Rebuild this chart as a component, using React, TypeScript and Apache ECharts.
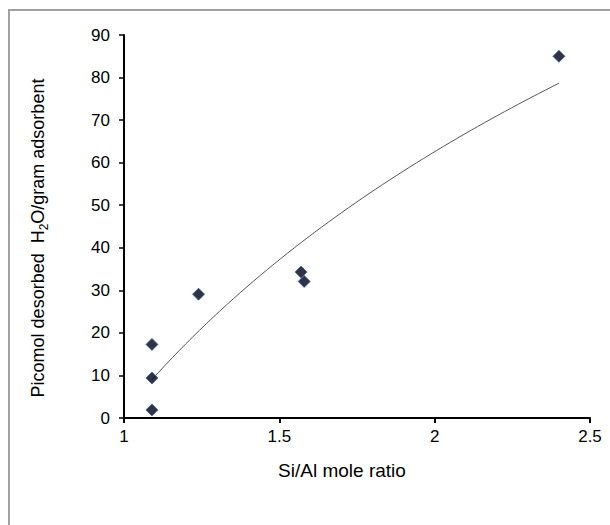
import React, { useEffect, useRef } from "react";
import * as echarts from "echarts";

// Si/Al mole ratio of each adsorbent and the water it desorbed (picomol / gram)
const siAlRatio = [1.09, 1.09, 1.09, 1.24, 1.57, 1.58, 2.4];
const waterDesorbed = [17.3, 9.4, 1.9, 29.1, 34.3, 32.1, 85];

const xTicks = [1, 1.5, 2, 2.5];
const yTicks = [0, 10, 20, 30, 40, 50, 60, 70, 80, 90];

// Logarithmic least-squares trendline y = a*ln(x) + b over the measured points
function logTrend(xs: number[], ys: number[]) {
  const lx = xs.map((v) => Math.log(v));
  const n = xs.length;
  const mx = lx.reduce((s, v) => s + v, 0) / n;
  const my = ys.reduce((s, v) => s + v, 0) / n;
  let sxx = 0;
  let sxy = 0;
  for (let i = 0; i < n; i++) {
    sxx += (lx[i] - mx) * (lx[i] - mx);
    sxy += (lx[i] - mx) * (ys[i] - my);
  }
  const a = sxy / sxx;
  const b = my - a * mx;
  const lo = Math.min(...xs);
  const hi = Math.max(...xs);
  const pts: number[][] = [];
  const steps = 60;
  for (let i = 0; i <= steps; i++) {
    const x = lo + ((hi - lo) * i) / steps;
    pts.push([x, a * Math.log(x) + b]);
  }
  return pts;
}

const FONT = "'Liberation Sans', Arial, sans-serif";

export default function App() {
  const ref = useRef<HTMLDivElement>(null);

  useEffect(() => {
    document.body.style.margin = "0";
    if (!ref.current) return;
    const chart = echarts.init(ref.current, undefined, { renderer: "svg" });
    chart.setOption({
      animation: false,
      backgroundColor: "#ffffff",
      grid: { left: 124, right: 20, top: 35, bottom: 107, containLabel: false },
      graphic: [
        {
          type: "rect",
          shape: { x: 9, y: 10, width: 800, height: 700 },
          style: { fill: "none", stroke: "#a0a0a0", lineWidth: 2 },
          silent: true,
        },
        {
          type: "text",
          x: 40,
          y: 238,
          rotation: Math.PI / 2,
          style: {
            text: "{a|Picomol desorbed  H}{s|2}{a|O/gram adsorbent}",
            align: "center",
            verticalAlign: "middle",
            rich: {
              a: { fontSize: 18, fontFamily: FONT, fill: "#000", lineHeight: 22, verticalAlign: "top" },
              s: { fontSize: 12, fontFamily: FONT, fill: "#000", lineHeight: 22, verticalAlign: "top", padding: [9, 0, 0, 0] },
            },
          },
        },
        {
          type: "text",
          x: 342,
          y: 470,
          style: {
            text: "Si/Al mole ratio",
            fontSize: 19,
            fontFamily: FONT,
            fill: "#000",
            align: "center",
            verticalAlign: "middle",
          },
        },
      ],
      xAxis: {
        type: "value",
        min: xTicks[0],
        max: xTicks[xTicks.length - 1],
        interval: 0.5,
        axisLine: { onZero: false, lineStyle: { color: "#000", width: 2 } },
        axisTick: { show: true, length: 5, lineStyle: { color: "#000", width: 2 } },
        axisLabel: { fontSize: 17, fontFamily: FONT, color: "#000", margin: 10 },
        splitLine: { show: false },
      },
      yAxis: {
        type: "value",
        min: yTicks[0],
        max: yTicks[yTicks.length - 1],
        interval: 10,
        axisLine: { onZero: false, lineStyle: { color: "#000", width: 2 } },
        axisTick: { show: true, length: 5, lineStyle: { color: "#000", width: 1.5 } },
        axisLabel: { fontSize: 17, fontFamily: FONT, color: "#000", margin: 14 },
        splitLine: { show: false },
      },
      series: [
        {
          type: "line",
          data: logTrend(siAlRatio, waterDesorbed),
          showSymbol: false,
          smooth: false,
          lineStyle: { color: "#555", width: 1 },
          silent: true,
          z: 1,
        },
        {
          type: "scatter",
          data: siAlRatio.map((x, i) => [x, waterDesorbed[i]]),
          symbol: "diamond",
          symbolSize: 12,
          itemStyle: { color: "#000010", borderColor: "#2a5cc0", borderWidth: 1 },
          z: 2,
        },
      ],
    });
    return () => chart.dispose();
  }, []);

  return <div ref={ref} style={{ width: 610, height: 525 }} />;
}
